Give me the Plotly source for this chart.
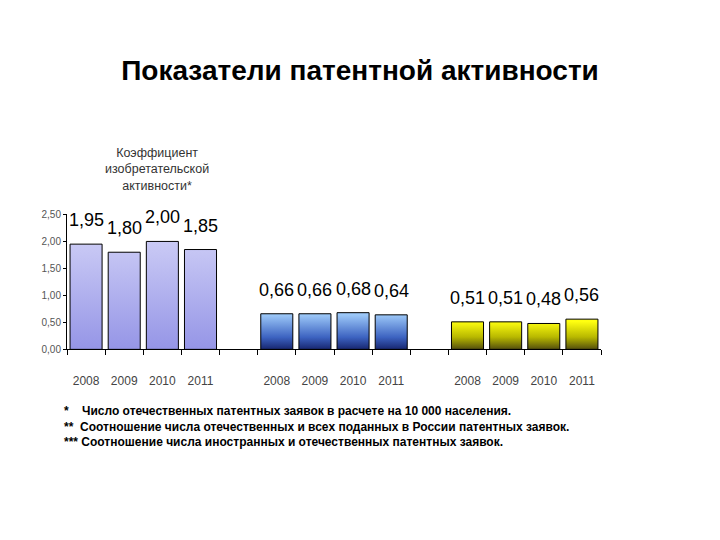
import plotly.graph_objects as go

# data
years = ['2008', '2009', '2010', '2011']
coef_invent = [1.95, 1.80, 2.00, 1.85]      # коэффициент изобретательской активности
share_domestic = [0.66, 0.66, 0.68, 0.64]   # отечественные / все заявки
ratio_foreign = [0.51, 0.51, 0.48, 0.56]    # иностранные / отечественные

groups = [coef_invent, share_domestic, ratio_foreign]
group_scales = [
    [[0, '#9494e6'], [1, '#cacaf5']],
    [[0, '#0e175a'], [0.4, '#3c62c0'], [1, '#9cc8f8']],
    [[0, '#3a3410'], [0.5, '#b8b800'], [1, '#ffff10']],
]

W, H = 720, 540
OFF = 8  # page body margin shifts the figure


def fx(p):
    return (p - OFF) / W


def fy(p):
    return 1 - (p - OFF) / H


BAR_W = 0.84
label_font = dict(family='Liberation Sans, Arial', size=18, color='black')

fig = go.Figure()
tick_pos, tick_txt = [], []

for g, (vals, cs) in enumerate(zip(groups, group_scales)):
    xs, ys = [], []
    for i, v in enumerate(vals):
        pos = g * 5 + i
        tick_pos.append(pos)
        tick_txt.append(years[i])
        x0, x1 = pos - BAR_W / 2, pos + BAR_W / 2
        xs += [x0, x0, x1, x1, x0, None]
        ys += [0, v, v, 0, 0, None]
        fig.add_annotation(x=pos, y=v, text=f'{v:.2f}'.replace('.', ','), showarrow=False,
                           yanchor='bottom', yshift=12, font=label_font, xref='x', yref='y')
    fig.add_trace(go.Scatter(
        x=xs, y=ys, mode='lines', fill='toself',
        line=dict(color='black', width=1),
        fillgradient=dict(type='vertical', colorscale=cs, start=0, stop=max(vals)),
        showlegend=False, hoverinfo='skip'))

axis_font = dict(family='Liberation Sans, Arial', size=10, color='#555555')

fig.update_layout(
    width=W, height=H,
    margin=dict(l=0, r=0, t=0, b=0),
    paper_bgcolor='white', plot_bgcolor='white',
    separators=', ',
    showlegend=False,
    title=dict(text='<b>Показатели патентной активности</b>', x=fx(360), xanchor='center',
               y=fy(70), yanchor='middle',
               font=dict(family='Liberation Sans, Arial', size=28, color='black')),
    xaxis=dict(domain=[fx(67), fx(601)], range=[-0.5, 13.5],
               tickmode='array', tickvals=tick_pos, ticktext=tick_txt,
               ticks='', showgrid=False, zeroline=False,
               showline=True, linecolor='black', linewidth=1,
               tickfont=dict(family='Liberation Sans, Arial', size=12, color='#444444'),
               ticklabelstandoff=20,
               minor=dict(tickmode='linear', tick0=-0.5, dtick=1, ticks='outside',
                          ticklen=5, tickcolor='black', showgrid=False)),
    yaxis=dict(domain=[fy(351), fy(213)], range=[0, 2.5],
               tickmode='array', tickvals=[0, 0.5, 1, 1.5, 2, 2.5], tickformat='.2f',
               ticks='outside', ticklen=3, tickcolor='black',
               showgrid=False, zeroline=False,
               showline=True, linecolor='black', linewidth=1,
               tickfont=axis_font),
)

fig.add_annotation(
    text='Коэффициент<br>изобретательской<br>активности*',
    xref='paper', yref='paper', x=fx(157), y=fy(167),
    xanchor='center', yanchor='middle', showarrow=False,
    font=dict(family='Liberation Sans, Arial', size=12.5, color='#333333'))

notes = [
    '*\u00a0\u00a0\u00a0\u00a0Число отечественных патентных заявок в расчете на 10 000 населения.',
    '**\u00a0\u00a0Соотношение числа отечественных и всех поданных в России патентных заявок.',
    '***\u00a0Соотношение числа иностранных и отечественных патентных заявок.',
]
fig.add_annotation(
    text='<br>'.join(notes),
    xref='paper', yref='paper', x=fx(62), y=fy(405),
    xanchor='left', yanchor='top', align='left', showarrow=False,
    font=dict(family='Liberation Sans, Arial', size=12, color='black', weight='bold'))

fig.write_html('out.html')
